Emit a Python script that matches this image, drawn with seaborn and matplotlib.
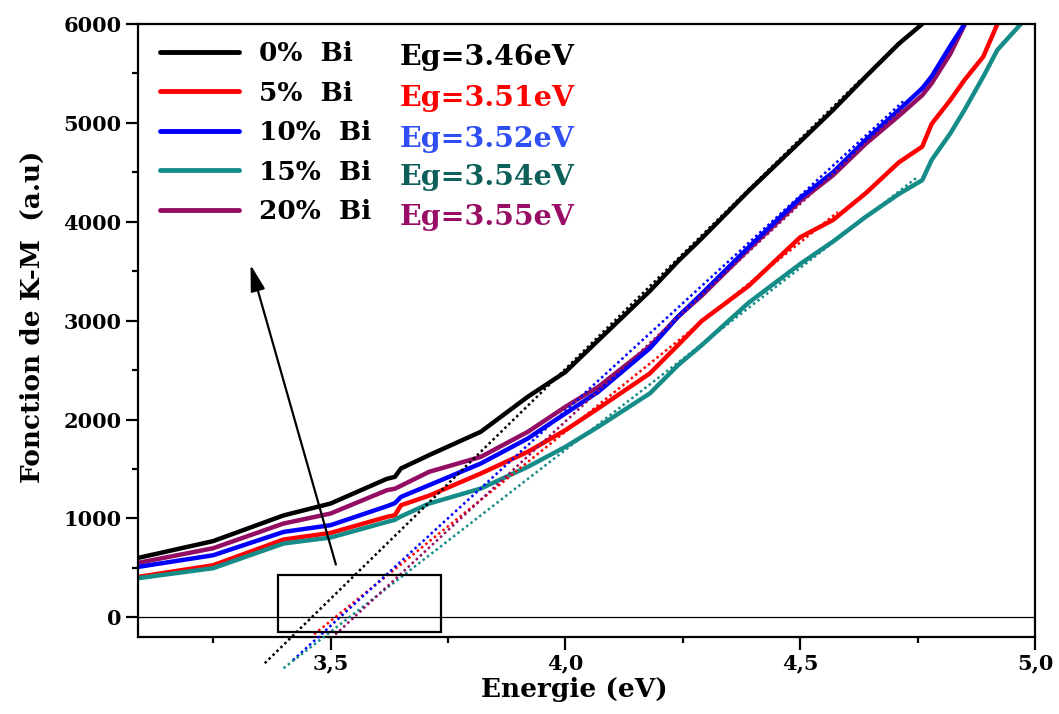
import numpy as np
import pandas as pd
import matplotlib
matplotlib.use("Agg")
import matplotlib.pyplot as plt
from matplotlib.ticker import MultipleLocator, FuncFormatter
from matplotlib.patches import Rectangle
import seaborn as sns

nan = np.nan

# photon energy (eV) and Kubelka-Munk values
energy = [3.09, 3.25, 3.40, 3.50, 3.62, 3.637, 3.65, 3.71, 3.82, 3.92, 4.00, 4.07, 4.18, 4.24,
          4.29, 4.39, 4.50, 4.57, 4.64, 4.71, 4.76, 4.78, 4.82, 4.85, 4.89, 4.92, 4.97]
km_0 = [600, 770, 1030, 1150, 1400, 1420, 1505, 1640, 1876, 2230, 2480, 2800, 3300, 3600,
        3830, 4310, 4810, 5130, 5470, 5800, 6000, nan, nan, nan, nan, nan, nan]
km_5 = [408, 526, 786, 853, 1015, 1032, 1133, 1230, 1454, 1673, 1892, 2112, 2466, 2753,
        2995, 3350, 3843, 4018, 4290, 4600, 4760, 4990, 5232, 5434, 5670, 6000, nan]
km_10 = [509, 627, 863, 931, 1123, 1154, 1217, 1336, 1555, 1808, 2061, 2280, 2720, 3040,
         3269, 3741, 4240, 4500, 4830, 5130, 5350, 5470, 5780, 6000, nan, nan, nan]
km_15 = [395, 496, 746, 806, 964, 985, 1020, 1150, 1302, 1521, 1723, 1926, 2264, 2550,
         2750, 3180, 3573, 3800, 4051, 4280, 4420, 4625, 4895, 5131, 5468, 5738, 6000]
km_20 = [550, 698, 948, 1049, 1285, 1300, 1330, 1471, 1622, 1875, 2128, 2330, 2740, 3040,
         3250, 3720, 4210, 4470, 4790, 5070, 5280, 5400, 5700, 5990, nan, nan, nan]

samples = ["0%  Bi", "5%  Bi", "10%  Bi", "15%  Bi", "20%  Bi"]
curve_colors = ["#000000", "#ff0000", "#0000ff", "#168c88", "#930d64"]
eg_colors = ["#000000", "#ff0000", "#2f4ff5", "#0d5f5a", "#990d66"]

# linear fits (Tauc-like tangents): band gap, slope, extent
eg = [3.46, 3.51, 3.52, 3.54, 3.55]
fit_slope = [4650, 3830, 4350, 3680, 4400]
fit_start = [3.36, 3.465, 3.42, 3.40, 3.51]
fit_end = [4.63, 4.58, 4.72, 4.75, 4.72]

rows = []
for name, vals in zip(samples, [km_0, km_5, km_10, km_15, km_20]):
    for e, v in zip(energy, vals):
        if not np.isnan(v):
            rows.append((name, e, v))
df = pd.DataFrame(rows, columns=["sample", "energy", "km"])

sns.set_style("ticks")
plt.rcParams["font.family"] = ["DejaVu Serif"]
plt.rcParams["font.weight"] = "bold"
for key in ["text.color", "axes.labelcolor", "xtick.color", "ytick.color", "axes.edgecolor"]:
    plt.rcParams[key] = "black"

fig = plt.figure(figsize=(10.59, 7.14), dpi=100)
ax = fig.add_axes([0.1303, 0.1078, 0.8470, 0.8586])

draw_order = ["0%  Bi", "5%  Bi", "15%  Bi", "20%  Bi", "10%  Bi"]
palette = dict(zip(samples, curve_colors))
sns.lineplot(data=df, x="energy", y="km", hue="sample", hue_order=draw_order,
             palette=palette, estimator=None, sort=False, lw=3.2, legend=False, ax=ax)
handles = dict(zip(draw_order, ax.get_lines()[:5]))

# dotted tangents (extend below the axis frame)
for i in range(5):
    xs = np.array([fit_start[i], fit_end[i]])
    ys = fit_slope[i] * (xs - eg[i])
    ax.plot(xs, ys, color=curve_colors[i], lw=1.8, linestyle=(0, (1, 1.2)),
            clip_on=False, zorder=3)

ax.axhline(0, color="black", lw=0.9, zorder=1)
ax.add_patch(Rectangle((3.388, -152), 0.347, 577, fill=False, lw=1.6, ec="black", zorder=4))
ax.annotate("", xy=(3.328, 3593), xytext=(3.513, 506),
            arrowprops=dict(arrowstyle="-|>,head_length=0.8,head_width=0.22",
                            lw=1.6, color="black", mutation_scale=20))

ax.set_xlim(3.09, 5.0)
ax.set_ylim(-200, 6000)
ax.xaxis.set_major_locator(MultipleLocator(0.5))
ax.xaxis.set_minor_locator(MultipleLocator(0.25))
ax.yaxis.set_major_locator(MultipleLocator(1000))
ax.yaxis.set_minor_locator(MultipleLocator(500))
ax.xaxis.set_major_formatter(FuncFormatter(lambda v, p: f"{v:.1f}".replace(".", ",")))
ax.yaxis.set_major_formatter(FuncFormatter(lambda v, p: f"{v:.0f}"))
ax.tick_params(which="major", direction="out", length=9, width=1.6, labelsize=15, pad=3,
               colors="black")
ax.tick_params(which="minor", direction="out", length=4.5, width=1.6, colors="black")
for lab in ax.get_xticklabels() + ax.get_yticklabels():
    lab.set_fontweight("bold")
for s in ax.spines.values():
    s.set_linewidth(1.6)
    s.set_color("black")

ax.set_xlabel("Energie (eV)", fontsize=19, fontweight="bold", color="black")
ax.set_ylabel("Fonction de K-M  (a.u)", fontsize=19, fontweight="bold", color="black")
ax.xaxis.set_label_coords(0.486, -0.066)
ax.yaxis.set_label_coords(-0.104, 0.522)

leg = ax.legend([handles[s] for s in samples], samples, loc="upper left",
                bbox_to_anchor=(0.0245, 0.972), frameon=False, borderpad=0,
                borderaxespad=0, handlelength=3.0, handletextpad=0.75,
                labelspacing=0.55, prop=dict(family="DejaVu Serif", weight="bold", size=19))
for line in leg.get_lines():
    line.set_linewidth(3.5)
for t in leg.get_texts():
    t.set_color("black")

eg_y = [0.9337, 0.8658, 0.7999, 0.7379, 0.6727]
for i in range(5):
    ax.text(0.292, eg_y[i], f"Eg={eg[i]:.2f}eV", transform=ax.transAxes, color=eg_colors[i],
            fontsize=20.5, fontweight="bold", va="baseline", ha="left")

fig.savefig("out.png", dpi=100)
